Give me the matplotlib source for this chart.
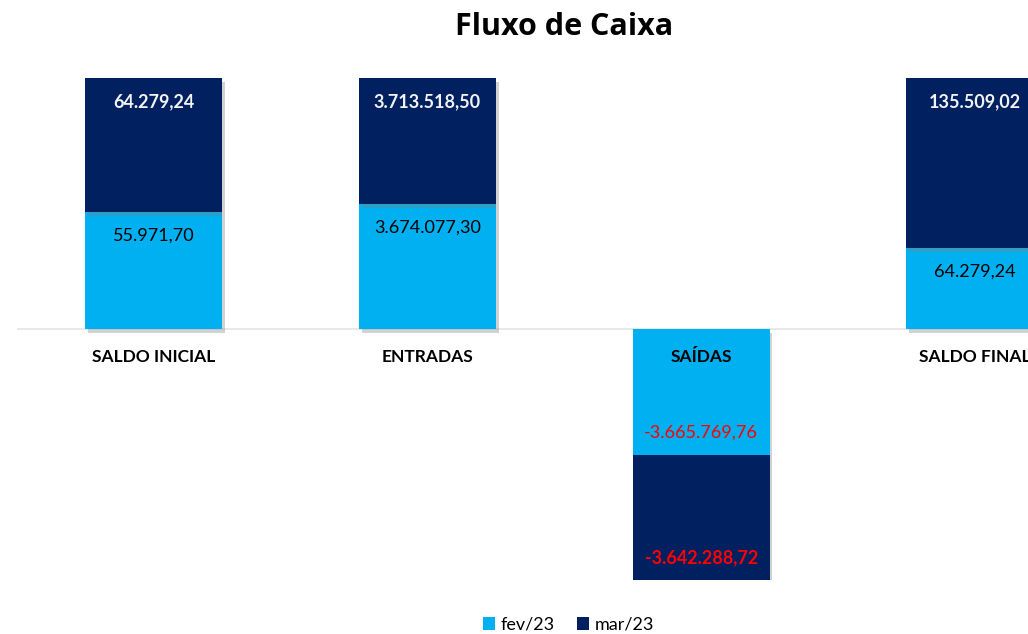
import numpy as np
import matplotlib
matplotlib.use("Agg")
import matplotlib.pyplot as plt
import matplotlib.patheffects as pe

plt.rcParams['font.family'] = ['Lato', 'DejaVu Sans']

categorias = ["SALDO INICIAL", "ENTRADAS", "SAÍDAS", "SALDO FINAL"]
fev = [55971.70, 3674077.30, -3665769.76, 64279.24]
mar = [64279.24, 3713518.50, -3642288.72, 135509.02]
series = ["fev/23", "mar/23"]

c_fev = "#00B0F0"
c_mar = "#002060"


def brl(v):
    s = f"{v:,.2f}"
    return s.replace(",", "X").replace(".", ",").replace("X", ".")


fev = np.array(fev)
mar = np.array(mar)
tot = np.abs(fev) + np.abs(mar)
p_fev = fev / tot
p_mar = mar / tot
x = np.arange(len(categorias))

fig = plt.figure(figsize=(10.28, 6.34), dpi=100)
ax = fig.add_axes([17 / 1028, 54 / 634, 1 - 17 / 1028, 502 / 634])

b1 = ax.bar(x, p_fev, 0.5, color=c_fev, label=series[0], zorder=2)
b2 = ax.bar(x, p_mar, 0.5, bottom=p_fev, color=c_mar, label=series[1], zorder=2)

ax.axhline(0, color="#E4E4E4", lw=1.2, zorder=1)
ax.set_xlim(-0.5, 3.194)
ax.set_ylim(-1, 1)
ax.axis("off")

# rótulos de dados (interno na extremidade)
for i in range(len(x)):
    neg = fev[i] < 0
    off = 16 if neg else -17
    top_f = p_fev[i]
    top_m = p_fev[i] + p_mar[i]
    ax.annotate(brl(fev[i]), (x[i], top_f), xytext=(0, off), textcoords="offset points",
                ha="center", va="center", fontsize=13,
                color="#FF0000" if neg else "black", zorder=5)
    ax.annotate(brl(mar[i]), (x[i], top_m), xytext=(0, off), textcoords="offset points",
                ha="center", va="center", fontsize=13, fontweight="bold",
                color="#FF0000" if neg else "#F2F2F2", zorder=5)
    ax.annotate(categorias[i], (x[i], 0), xytext=(0, -20), textcoords="offset points",
                ha="center", va="center", fontsize=12.5, fontweight="bold",
                color="black", zorder=5, annotation_clip=False)

fig.text(0.549, 0.957, "Fluxo de Caixa", ha="center", va="center",
         fontsize=22, fontweight="bold", family=["Open Sans", "DejaVu Sans"])

fig.legend(loc="lower center", bbox_to_anchor=(0.553, -0.024), ncol=2, frameon=False,
           fontsize=13, handlelength=0.7, handleheight=0.7, handletextpad=0.3,
           columnspacing=1.2)

# sombra leve nas barras (depois da legenda)
shadow = [pe.SimplePatchShadow(offset=(2, -3), shadow_rgbFace="#808080", alpha=0.35), pe.Normal()]
for b in list(b1) + list(b2):
    b.set_path_effects(shadow)

fig.savefig("out.png", dpi=100)
